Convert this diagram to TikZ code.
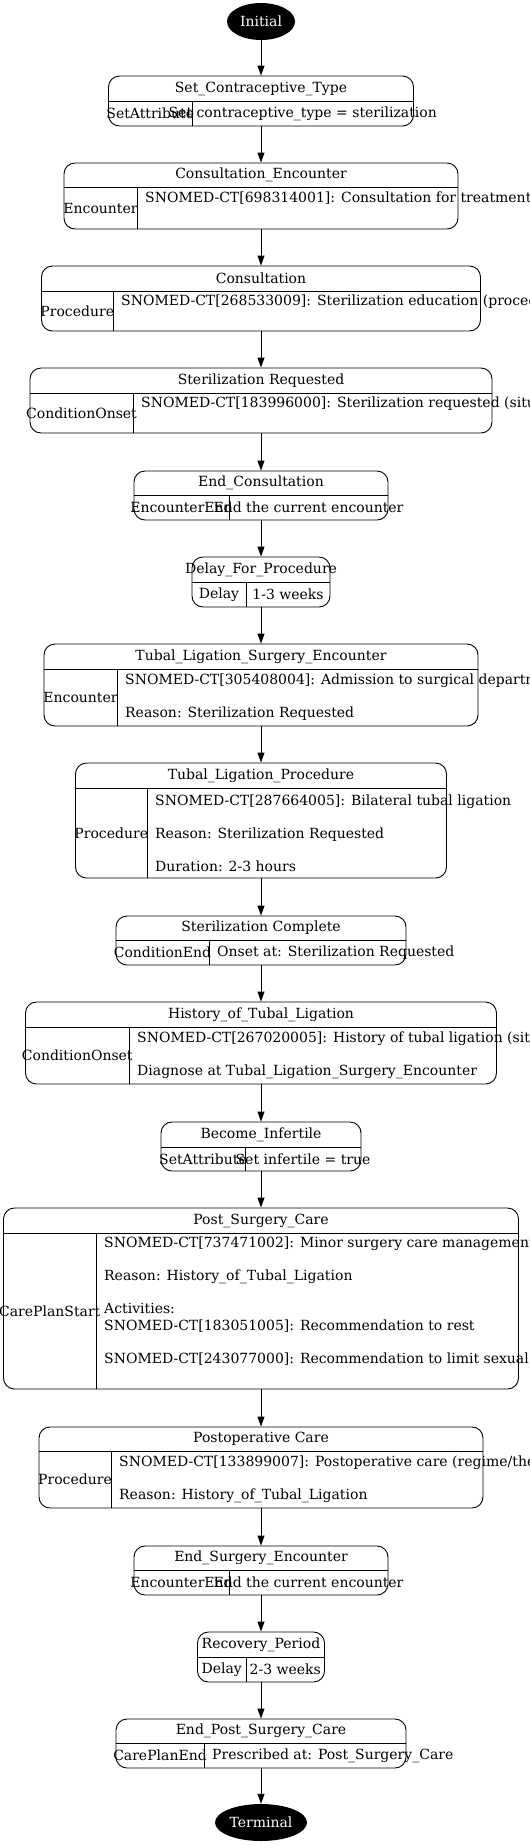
\documentclass[tikz,border=0pt]{standalone}
\usepackage{fontspec}
\setmainfont{DejaVu Serif}
\usetikzlibrary{arrows.meta,shapes.geometric}
\tikzset{
  stateframe/.style={draw, rounded corners=11pt, line width=0.9pt, inner sep=0pt},
  labeltext/.style={inner sep=0pt, font=\fontsize{14}{16.5}\selectfont},
  bodytext/.style={labeltext, anchor=west, align=left},
  endpoint/.style={ellipse, fill=black, text=white, inner sep=0pt, minimum height=37pt, font=\fontsize{14}{16.5}\selectfont},
  flowarrow/.style={line width=0.9pt, -{Triangle[length=10pt,width=7pt]}}
}
% name, half width, top, bottom, header, column, title, type
\newcommand{\statenode}[8]{%
  \node[stateframe, minimum width={2*#2pt}, minimum height={(#4-#3)*1pt}] (#1) at (261,{(#3+#4)/2}) {};
  \draw[line width=0.9pt] ({261-#2},#5) -- ({261+#2},#5);
  \draw[line width=0.9pt] (#6,#5) -- (#6,#4);
  \node[labeltext] (#1-title) at (261,{(#3+#5)/2}) {#7};
  \node[labeltext] (#1-type) at ({(261-#2+#6)/2},{(#5+#4)/2}) {#8};
  \coordinate (#1-mid) at ({(#6+261+#2)/2},{(#5+#4)/2});
  \coordinate (#1-body) at ({#6+8},{(#5+#4)/2});
}
\begin{document}
\begin{tikzpicture}[x=1pt,y=-1pt]
\useasboundingbox (0,0) rectangle (530,1845);

\node[endpoint, minimum width=68pt] (initial) at (261,21.5) {Initial};

\statenode{setct}{152.5}{76}{126}{101}{192}{Set\_Contraceptive\_Type}{SetAttribute}
\node[labeltext] (setct-value) at (setct-mid) {Set contraceptive\_type = sterilization};

\statenode{consenc}{197}{163}{229}{187}{137}{Consultation\_Encounter}{Encounter}
\node[bodytext] (consenc-value) at (consenc-body) {SNOMED-CT[698314001]: Consultation for treatment (procedure)\\ \strut};

\statenode{consult}{219.5}{266}{331}{291}{113}{Consultation}{Procedure}
\node[bodytext] (consult-value) at (consult-body) {SNOMED-CT[268533009]: Sterilization education (procedure)\\ \strut};

\statenode{sterreq}{231}{368}{433}{393}{133}{Sterilization Requested}{ConditionOnset}
\node[bodytext] (sterreq-value) at (sterreq-body) {SNOMED-CT[183996000]: Sterilization requested (situation)\\ \strut};

\statenode{endcons}{127}{471}{520}{495}{229}{End\_Consultation}{EncounterEnd}
\node[labeltext] (endcons-value) at (endcons-mid) {End the current encounter};

\statenode{delay}{69}{557}{607}{582}{246}{Delay\_For\_Procedure}{Delay}
\node[labeltext] (delay-value) at (delay-mid) {1-3 weeks};

\statenode{tlse}{217}{644}{726}{669}{117}{Tubal\_Ligation\_Surgery\_Encounter}{Encounter}
\node[bodytext] (tlse-value) at (tlse-body) {SNOMED-CT[305408004]: Admission to surgical department (procedure)\\ \\ Reason: Sterilization Requested};

\statenode{tlp}{185.5}{763}{878}{788}{147}{Tubal\_Ligation\_Procedure}{Procedure}
\node[bodytext] (tlp-value) at (tlp-body) {SNOMED-CT[287664005]: Bilateral tubal ligation\\ \\ Reason: Sterilization Requested\\ \\ Duration: 2-3 hours};

\statenode{stercomp}{145}{916}{965}{940}{209}{Sterilization Complete}{ConditionEnd}
\node[bodytext] (stercomp-value) at (stercomp-body) {Onset at: Sterilization Requested};

\statenode{htl}{235.5}{1002}{1084}{1027}{129}{History\_of\_Tubal\_Ligation}{ConditionOnset}
\node[bodytext] (htl-value) at (htl-body) {SNOMED-CT[267020005]: History of tubal ligation (situation)\\ \\ Diagnose at Tubal\_Ligation\_Surgery\_Encounter};

\statenode{infert}{100}{1122}{1171}{1147}{245}{Become\_Infertile}{SetAttribute}
\node[labeltext] (infert-value) at (infert-mid) {Set infertile = true};

\statenode{psc}{257.5}{1208}{1389}{1233}{96}{Post\_Surgery\_Care}{CarePlanStart}
\node[bodytext] (psc-value) at (psc-body) {SNOMED-CT[737471002]: Minor surgery care management (procedure)\\ \\ Reason: History\_of\_Tubal\_Ligation\\ \\ Activities:\\ SNOMED-CT[183051005]: Recommendation to rest\\ \\ SNOMED-CT[243077000]: Recommendation to limit sexual activity (procedure)\\ \strut};

\statenode{postop}{222}{1427}{1508}{1451}{111}{Postoperative Care}{Procedure}
\node[bodytext] (postop-value) at (postop-body) {SNOMED-CT[133899007]: Postoperative care (regime/therapy)\\ \\ Reason: History\_of\_Tubal\_Ligation};

\statenode{ese}{127}{1546}{1595}{1570}{229}{End\_Surgery\_Encounter}{EncounterEnd}
\node[labeltext] (ese-value) at (ese-mid) {End the current encounter};

\statenode{recov}{63.5}{1632}{1682}{1657}{246}{Recovery\_Period}{Delay}
\node[labeltext] (recov-value) at (recov-mid) {2-3 weeks};

\statenode{epsc}{145}{1719}{1768}{1743}{204}{End\_Post\_Surgery\_Care}{CarePlanEnd}
\node[bodytext] (epsc-value) at (epsc-body) {Prescribed at: Post\_Surgery\_Care};

\node[endpoint, minimum width=92pt] (terminal) at (261,1822.5) {Terminal};

% transitions
\foreach \a/\b in {initial/setct, setct/consenc, consenc/consult, consult/sterreq,
  sterreq/endcons, endcons/delay, delay/tlse, tlse/tlp, tlp/stercomp, stercomp/htl,
  htl/infert, infert/psc, psc/postop, postop/ese, ese/recov, recov/epsc, epsc/terminal}
  \draw[flowarrow] (\a) -- (\b);
\end{tikzpicture}
\end{document}
